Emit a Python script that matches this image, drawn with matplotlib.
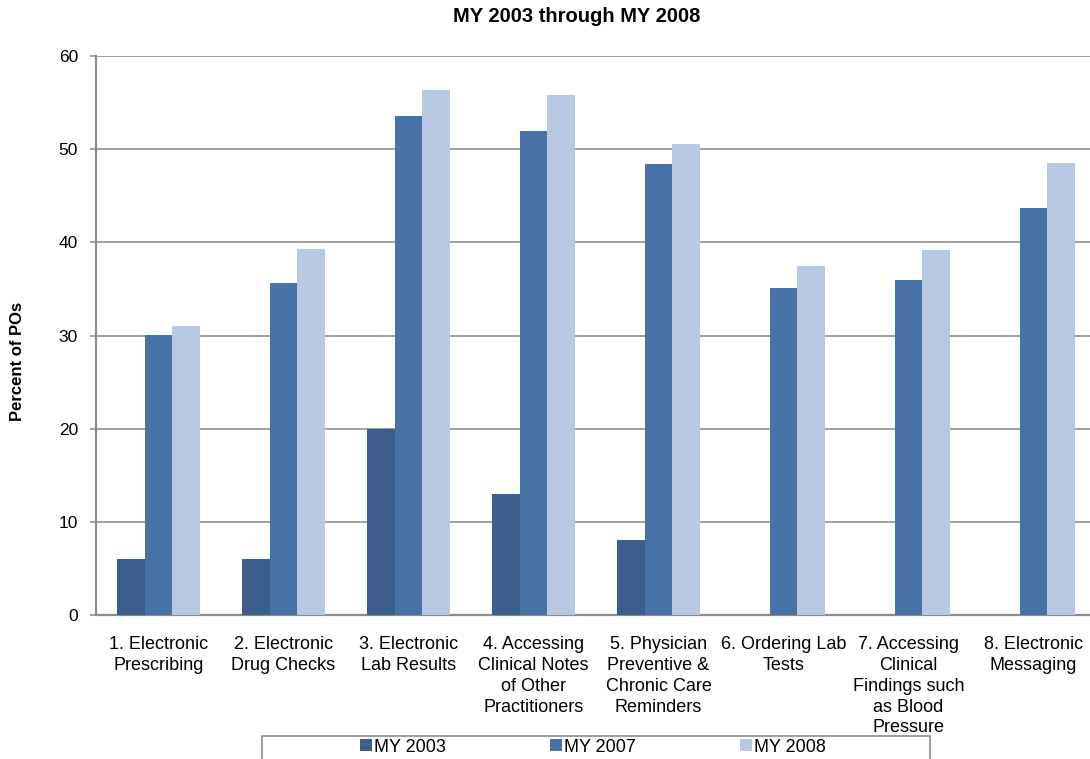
import numpy as np
import matplotlib
matplotlib.use("Agg")
import matplotlib.pyplot as plt
from matplotlib.patches import Rectangle

plt.rcParams['font.family'] = ['Liberation Sans', 'DejaVu Sans']

categories = ["1. Electronic\nPrescribing",
              "2. Electronic\nDrug Checks",
              "3. Electronic\nLab Results",
              "4. Accessing\nClinical Notes\nof Other\nPractitioners",
              "5. Physician\nPreventive &\nChronic Care\nReminders",
              "6. Ordering Lab\nTests",
              "7. Accessing\nClinical\nFindings such\nas Blood\nPressure",
              "8. Electronic\nMessaging"]

my2003 = [6, 6, 20, 13, 8, np.nan, np.nan, np.nan]
my2007 = [30.1, 35.6, 53.6, 51.9, 48.4, 35.1, 36.0, 43.7]
my2008 = [31.0, 39.3, 56.3, 55.8, 50.6, 37.5, 39.2, 48.5]

series_names = ["MY 2003", "MY 2007", "MY 2008"]
colors = ["#3b5e8c", "#4672a6", "#b9c8e2"]

fig = plt.figure(figsize=(10.9, 7.59), dpi=100)
ax = fig.add_axes([96 / 1090, 1 - 615 / 759, 1000 / 1090, 559 / 759])

x = np.arange(len(categories))
w = 0.22
bars = []
for i, (vals, c, name) in enumerate(zip([my2003, my2007, my2008], colors, series_names)):
    b = ax.bar(x + (i - 1) * w, vals, width=w, color=c, label=name, zorder=3)
    bars.append(b)

ax.set_xlim(-0.5, len(categories) - 0.5)
ax.set_ylim(0, 60)
ax.set_yticks(range(0, 61, 10))
ax.yaxis.grid(True, color="#a0a0a0", linewidth=1.4, zorder=0)
ax.set_axisbelow(True)

for s in ["top", "right"]:
    ax.spines[s].set_visible(False)
for s in ["left", "bottom"]:
    ax.spines[s].set_color("#8c8c8c")
    ax.spines[s].set_linewidth(1.6)

ax.set_xticks(x)
ax.set_xticklabels(categories, fontsize=13, linespacing=1.3, va="top")
ax.tick_params(axis="x", length=0, pad=15)
ax.tick_params(axis="y", length=4, color="#8c8c8c", width=1.2, pad=9, labelsize=12.5)

fig.text(18 / 1090, 1 - 361 / 759, "Percent of POs", rotation=90,
         fontsize=12, fontweight="bold", ha="center", va="center")
fig.text(577 / 1090, 1 - 16 / 759, "MY 2003 through MY 2008",
         fontsize=14.5, fontweight="bold", ha="center", va="center")

# legend frame runs off the bottom edge
fig.patches.append(Rectangle((262 / 1090, -0.05), (930 - 262) / 1090, 0.05 + (759 - 736) / 759,
                             transform=fig.transFigure, fill=False,
                             edgecolor="#8c8c8c", linewidth=1.2))
fig.legend(handles=bars, labels=series_names, loc="center",
           bbox_to_anchor=(593 / 1090, 1 - 747 / 759), ncol=3, frameon=False,
           fontsize=13, handlelength=0.65, handleheight=0.65, handletextpad=0.1,
           columnspacing=5.8)

fig.savefig("out.png", dpi=100)
